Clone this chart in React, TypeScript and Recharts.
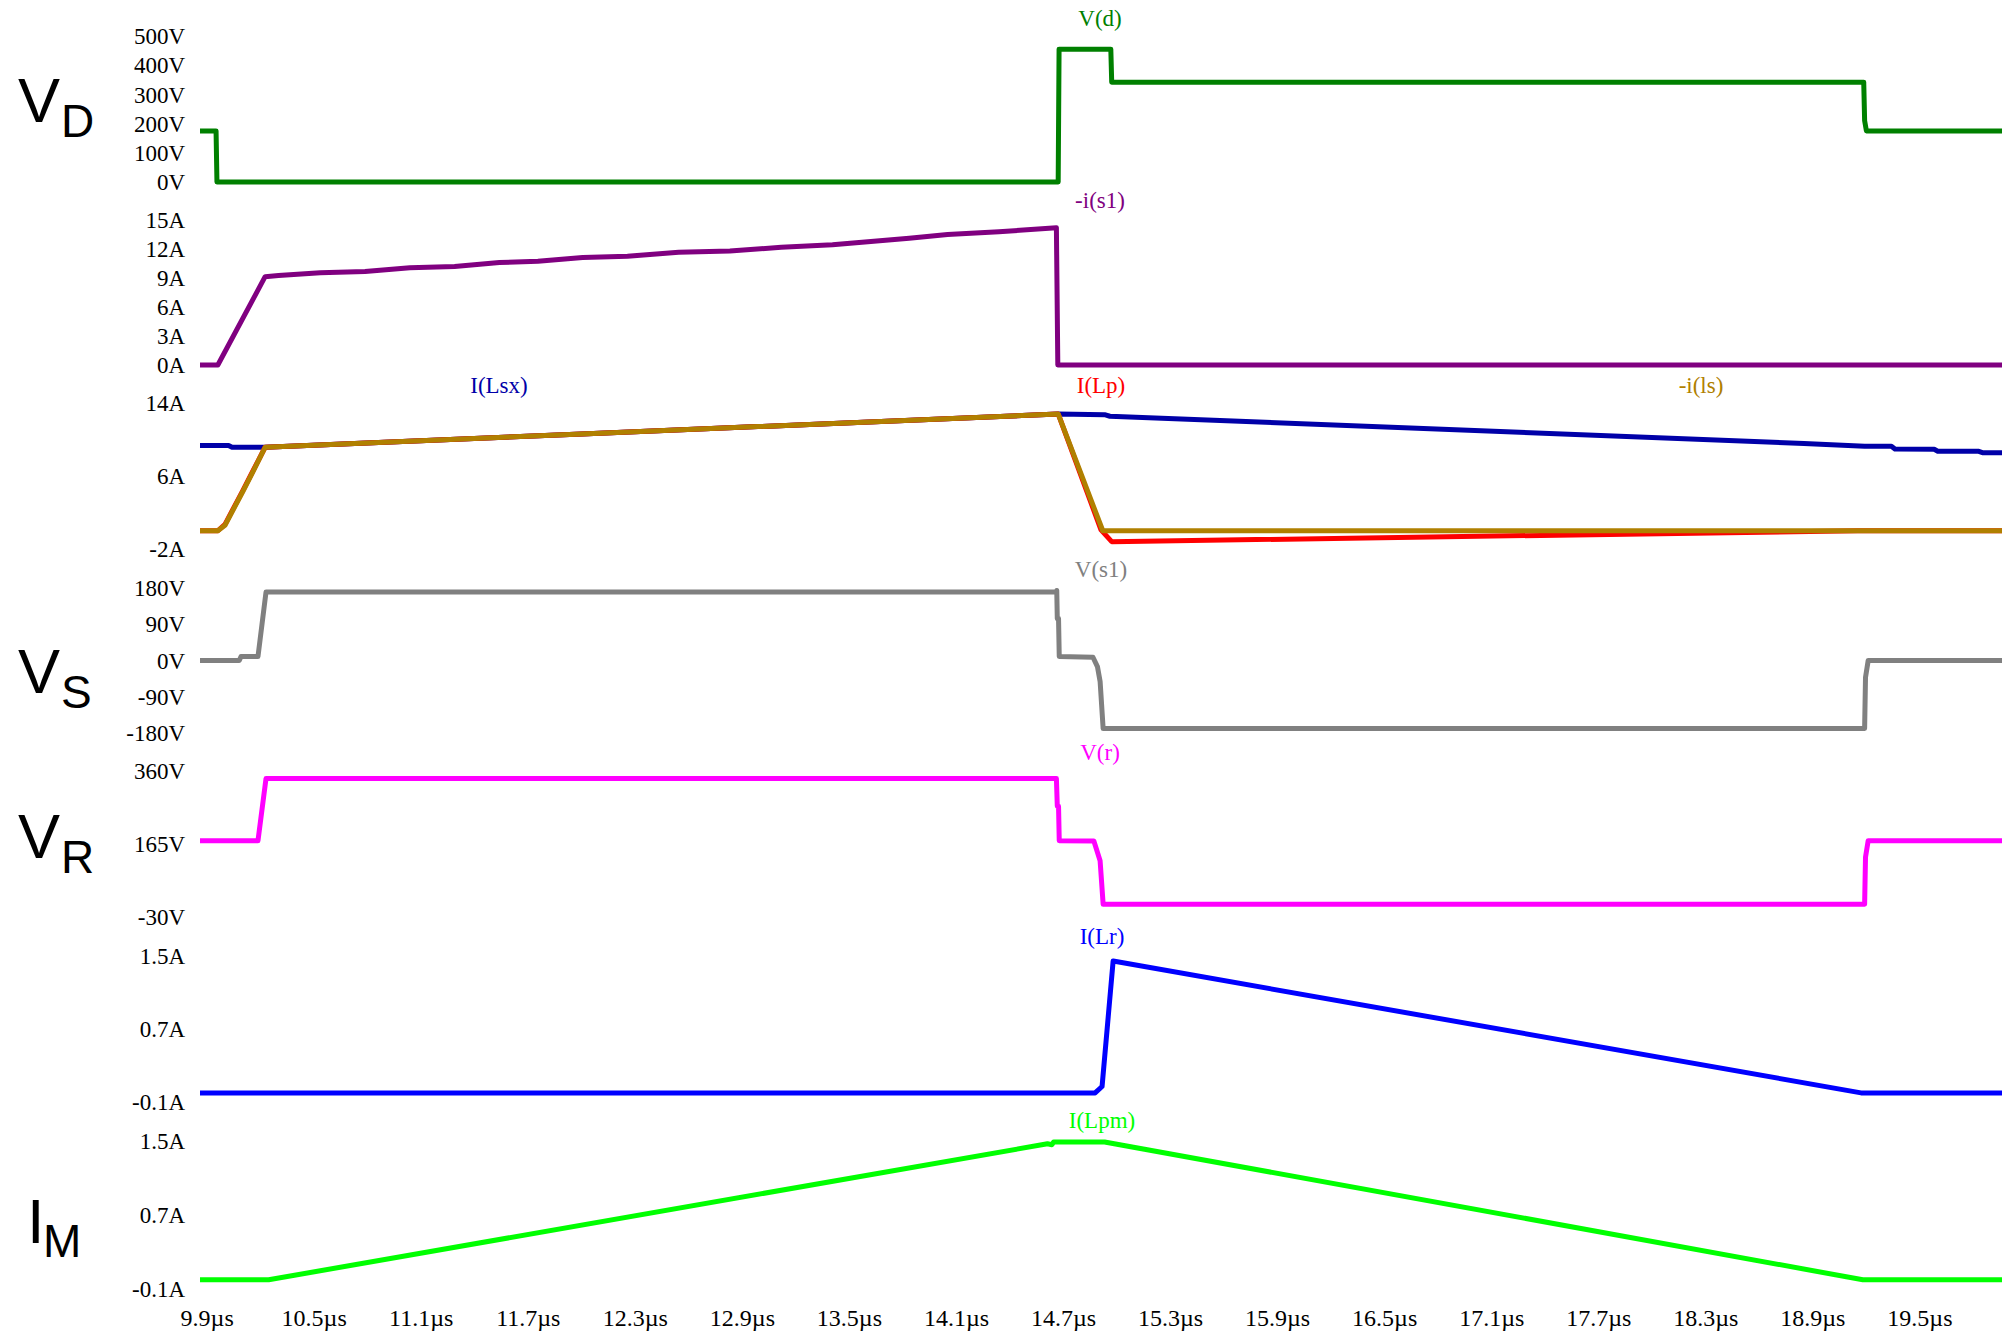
import React from 'react';
import { LineChart, Line, XAxis, YAxis } from 'recharts';

// time axis, µs
const X_DOMAIN = [9.86, 19.96];
const X_TICKS = [9.9, 10.5, 11.1, 11.7, 12.3, 12.9, 13.5, 14.1, 14.7, 15.3, 15.9, 16.5, 17.1, 17.7, 18.3, 18.9, 19.5];

// [t (µs), value]
const V_D = [
  [9.86, 175], [9.95, 175], [9.955, 0], [14.67, 0], [14.675, 455], [14.965, 455], [14.97, 342],
  [19.185, 342], [19.19, 210], [19.2, 175], [19.96, 175],
];

const I_S1 = [
  [9.86, 0], [9.96, 0], [10.225, 9.14], [10.3, 9.25], [10.534, 9.54], [10.785, 9.67], [11.036, 10.07],
  [11.287, 10.2], [11.538, 10.6], [11.754, 10.73], [12.005, 11.13], [12.256, 11.26], [12.543, 11.66],
  [12.83, 11.79], [13.118, 12.18], [13.405, 12.45], [13.835, 13.11], [14.05, 13.51], [14.338, 13.78],
  [14.66, 14.2], [14.668, 0], [19.96, 0],
];

const I_LSX = [
  [9.86, 9.35], [10.02, 9.35], [10.04, 9.15], [10.225, 9.15], [12.0, 10.6], [14.67, 12.8],
  [14.93, 12.72], [14.96, 12.55], [18.85, 9.57], [19.19, 9.27], [19.34, 9.25], [19.36, 8.95],
  [19.58, 8.93], [19.6, 8.72], [19.83, 8.7], [19.85, 8.56], [19.96, 8.56],
];

const I_LP = [
  [9.86, 0], [9.96, 0], [10.0, 0.7], [10.1, 4.4], [10.15, 6.3], [10.225, 9.15], [12.0, 10.6],
  [14.67, 12.8], [14.91, 0.1], [14.97, -1.2], [19.15, 0], [19.96, 0],
];

const I_LS = [
  [9.86, 0], [9.96, 0], [10.0, 0.6], [10.1, 4.3], [10.15, 6.2], [10.225, 9.15], [12.0, 10.6],
  [14.67, 12.8], [14.92, 0], [19.96, 0],
];

const V_S1 = [
  [9.86, 0], [10.08, 0], [10.09, 10], [10.185, 10], [10.23, 170], [14.66, 170], [14.662, 174],
  [14.665, 104], [14.672, 104], [14.676, 10], [14.865, 8], [14.89, -15], [14.905, -52],
  [14.922, -169], [19.19, -169], [19.195, -42], [19.21, 0], [19.96, 0],
];

const V_R = [
  [9.86, 174], [10.185, 174], [10.23, 340], [14.66, 340], [14.665, 266], [14.672, 266],
  [14.676, 174], [14.87, 173], [14.905, 120], [14.922, 4], [19.19, 4], [19.195, 130],
  [19.21, 174], [19.96, 174],
];

const I_LR = [
  [9.86, 0], [14.877, 0], [14.916, 0.07], [14.978, 1.445], [19.17, 0], [19.96, 0],
];

const I_LPM = [
  [9.86, 0], [10.245, 0], [14.61, 1.47], [14.635, 1.46], [14.645, 1.49], [14.93, 1.49],
  [19.18, 0], [19.96, 0],
];

const pts = (a: number[][]) => a.map(([t, v]) => ({ t, v }));

const SERIF = '"Liberation Serif", "Times New Roman", serif';
const SANS = '"Liberation Sans", Arial, sans-serif';
const PAD = 20;
const XAXIS_H = 50;

type Series = { data: number[][]; color: string };
type PanelProps = {
  top: number;
  bottom: number;
  domain: number[];
  ticks: number[];
  unit: string;
  series: Series[];
  showX?: boolean;
};

const Panel = ({ top, bottom, domain, ticks, unit, series, showX }: PanelProps) => {
  const h = bottom - top + PAD + (showX ? XAXIS_H : PAD);
  return (
    <div style={{ position: 'absolute', left: 0, top: top - PAD }}>
      <LineChart
        width={2008}
        height={h}
        margin={{ top: PAD, right: 6, bottom: showX ? 0 : PAD, left: 0 }}
      >
        <XAxis
          type="number"
          dataKey="t"
          domain={X_DOMAIN}
          ticks={X_TICKS}
          interval={0}
          hide={!showX}
          height={XAXIS_H}
          axisLine={false}
          tickLine={false}
          tickSize={0}
          tickMargin={20}
          tick={{ fontFamily: SERIF, fontSize: 24, fill: '#000' }}
          tickFormatter={(v: number) => `${v}µs`}
        />
        <YAxis
          type="number"
          domain={domain}
          ticks={ticks}
          interval={0}
          width={200}
          axisLine={false}
          tickLine={false}
          tickSize={0}
          tickMargin={15}
          tick={{ fontFamily: SERIF, fontSize: 23, fill: '#000' }}
          tickFormatter={(v: number) => `${v}${unit}`}
        />
        {series.map((s, i) => (
          <Line
            key={i}
            data={pts(s.data)}
            dataKey="v"
            type="linear"
            stroke={s.color}
            strokeWidth={5}
            strokeLinejoin="round"
            dot={false}
            activeDot={false}
            isAnimationActive={false}
          />
        ))}
      </LineChart>
    </div>
  );
};

const NAMES = [
  { text: 'V(d)', x: 1100, y: 18, color: '#008000' },
  { text: '-i(s1)', x: 1100, y: 200, color: '#800080' },
  { text: 'I(Lsx)', x: 499, y: 385, color: '#0000a8' },
  { text: 'I(Lp)', x: 1101, y: 385, color: '#ff0000' },
  { text: '-i(ls)', x: 1701, y: 385, color: '#b08000' },
  { text: 'V(s1)', x: 1101, y: 569, color: '#808080' },
  { text: 'V(r)', x: 1100, y: 752, color: '#ff00ff' },
  { text: 'I(Lr)', x: 1102, y: 936, color: '#0000ff' },
  { text: 'I(Lpm)', x: 1102, y: 1120, color: '#00ff00' },
];

const BIG = [
  { main: 'V', sub: 'D', x: 18, sx: 61, y: 122, sy: 137 },
  { main: 'V', sub: 'S', x: 18, sx: 61, y: 693, sy: 708 },
  { main: 'V', sub: 'R', x: 18, sx: 61, y: 858, sy: 873 },
  { main: 'I', sub: 'M', x: 27, sx: 43, y: 1243, sy: 1257 },
];

export default function App() {
  return (
    <div style={{ position: 'absolute', left: 0, top: 0, width: 2008, height: 1331, background: '#fff' }}>
      <Panel top={36} bottom={182} domain={[0, 500]} ticks={[0, 100, 200, 300, 400, 500]} unit="V"
        series={[{ data: V_D, color: '#008000' }]} />
      <Panel top={220} bottom={365} domain={[0, 15]} ticks={[0, 3, 6, 9, 12, 15]} unit="A"
        series={[{ data: I_S1, color: '#800080' }]} />
      <Panel top={403} bottom={549} domain={[-2, 14]} ticks={[-2, 6, 14]} unit="A"
        series={[
          { data: I_LSX, color: '#0000a8' },
          { data: I_LP, color: '#ff0000' },
          { data: I_LS, color: '#b08000' },
        ]} />
      <Panel top={588} bottom={733} domain={[-180, 180]} ticks={[-180, -90, 0, 90, 180]} unit="V"
        series={[{ data: V_S1, color: '#808080' }]} />
      <Panel top={771} bottom={917} domain={[-30, 360]} ticks={[-30, 165, 360]} unit="V"
        series={[{ data: V_R, color: '#ff00ff' }]} />
      <Panel top={956} bottom={1102} domain={[-0.1, 1.5]} ticks={[-0.1, 0.7, 1.5]} unit="A"
        series={[{ data: I_LR, color: '#0000ff' }]} />
      <Panel top={1141} bottom={1289} domain={[-0.1, 1.5]} ticks={[-0.1, 0.7, 1.5]} unit="A"
        series={[{ data: I_LPM, color: '#00ff00' }]} showX />

      <svg width={2008} height={1331} style={{ position: 'absolute', left: 0, top: 0, pointerEvents: 'none' }}>
        {NAMES.map((n) => (
          <text key={n.text} x={n.x} y={n.y} textAnchor="middle" dominantBaseline="central"
            fontFamily={SERIF} fontSize={23} fill={n.color}>
            {n.text}
          </text>
        ))}
        {BIG.map((b) => (
          <g key={b.sub} fontFamily={SANS} fill="#000">
            <text x={b.x} y={b.y} fontSize={63}>{b.main}</text>
            <text x={b.sx} y={b.sy} fontSize={46}>{b.sub}</text>
          </g>
        ))}
      </svg>
    </div>
  );
}
